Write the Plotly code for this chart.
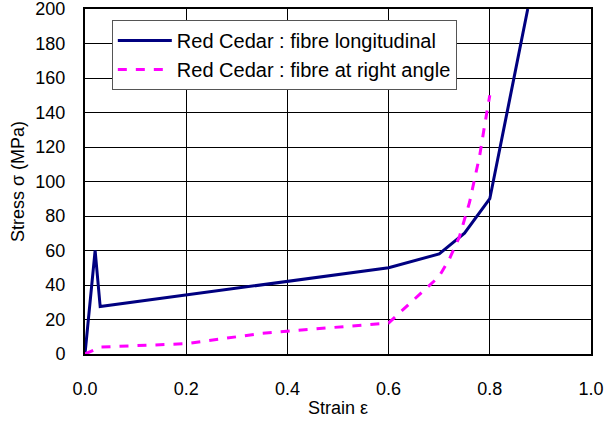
import plotly.graph_objects as go

# Red Cedar: fibre longitudinal
long_strain = [0.0, 0.02, 0.03, 0.6, 0.7, 0.75, 0.8, 0.875]
long_stress = [0, 60, 27.5, 50, 58, 70, 90, 200]

# Red Cedar: fibre at right angle
right_strain = [0.0, 0.03, 0.2, 0.35, 0.6, 0.7, 0.72, 0.74, 0.76, 0.78, 0.79, 0.8]
right_stress = [0, 4, 6, 12, 18, 45, 55, 68, 88, 115, 133, 150]

x_ticks = [0.0, 0.2, 0.4, 0.6, 0.8, 1.0]
x_labels = ["0.0", "0.2", "0.4", "0.6", "0.8", "1.0"]
y_ticks = [0, 20, 40, 60, 80, 100, 120, 140, 160, 180, 200]

FONT = "Liberation Sans, Arial, sans-serif"

fig = go.Figure()
fig.add_trace(go.Scatter(
    x=long_strain, y=long_stress, mode="lines",
    name="Red Cedar : fibre longitudinal",
    line=dict(color="#000080", width=3),
))
fig.add_trace(go.Scatter(
    x=right_strain, y=right_stress, mode="lines",
    name="Red Cedar : fibre at right angle",
    line=dict(color="#FF00FF", width=3, dash="dash"),
))

fig.update_layout(
    width=612, height=423,
    margin=dict(l=85, r=21, t=9, b=69),
    paper_bgcolor="white", plot_bgcolor="white",
    font=dict(family=FONT, size=18, color="black"),
    showlegend=True,
    legend=dict(
        x=0.053, y=0.968, xanchor="left", yanchor="top",
        bgcolor="white", bordercolor="#555555", borderwidth=1,
        font=dict(family=FONT, size=20, color="black"),
        tracegroupgap=0, itemwidth=54,
    ),
)
fig.update_xaxes(
    range=[0, 1.0], tickvals=x_ticks, ticktext=x_labels,
    showgrid=True, gridcolor="black", gridwidth=1,
    showline=True, linecolor="black", linewidth=2, mirror=True,
    zeroline=False, ticks="", ticklabelstandoff=17, automargin=False,
    ticklabeloverflow="allow",
    title=dict(text="Strain ε", font=dict(size=18), standoff=4),
)
fig.update_yaxes(
    range=[0, 200], tickvals=y_ticks,
    showgrid=True, gridcolor="black", gridwidth=1,
    showline=True, linecolor="black", linewidth=2, mirror=True,
    zeroline=False, ticks="", ticklabelstandoff=14, automargin=False,
    ticklabeloverflow="allow",
    title=dict(text="Stress σ (MPa)", font=dict(size=18), standoff=6),
)

fig.write_html(
    "out.html",
    config={"displayModeBar": False},
    post_script="document.body.style.margin='0';document.body.style.overflow='hidden';",
)
